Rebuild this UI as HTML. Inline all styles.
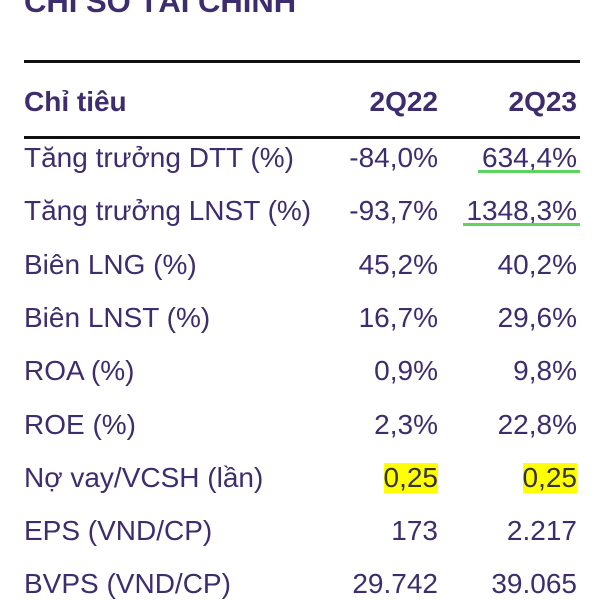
<!DOCTYPE html>
<html><head><meta charset="utf-8"><style>
body{margin:0;width:600px;height:600px;background:#fff;overflow:hidden;position:relative;font-family:"Liberation Sans",sans-serif;color:#3d2d6e}
.t{position:absolute;white-space:nowrap;font-size:28px;line-height:30px}
.l{left:24px}.c1{right:162px;text-align:right}.c2{right:23px;text-align:right}
.rule{position:absolute;left:24px;width:556px;height:3px;background:#111}
.hl{background:#ffff00;color:#333}
.ul{position:absolute;height:3px;background:#5fd35f}
</style></head><body>
<div class="t" style="left:24px;top:-13px;font-size:31px;font-weight:bold;line-height:30px">CHỈ SỐ TÀI CHÍNH</div>
<div class="rule" style="top:60px"></div>
<div class="t l" style="top:87px;font-weight:bold">Chỉ tiêu</div>
<div class="t c1" style="top:87px;font-weight:bold">2Q22</div>
<div class="t c2" style="top:87px;font-weight:bold">2Q23</div>
<div class="rule" style="top:136px"></div>
<div id="rows"></div>
<script>
const labels=["Tăng trưởng DTT (%)","Tăng trưởng LNST (%)","Biên LNG (%)","Biên LNST (%)","ROA (%)","ROE (%)","Nợ vay/VCSH (lần)","EPS (VND/CP)","BVPS (VND/CP)"];
const q22=["-84,0%","-93,7%","45,2%","16,7%","0,9%","2,3%","0,25","173","29.742"];
const q23=["634,4%","1348,3%","40,2%","29,6%","9,8%","22,8%","0,25","2.217","39.065"];
const root=document.getElementById('rows');
labels.forEach((lab,i)=>{
  const top=143+i*53.3;
  const a=document.createElement('div');a.className='t l';a.style.top=top+'px';a.textContent=lab;
  
  
  root.appendChild(a);
  const b=document.createElement('div');b.className='t c1'+(i==6?' hl':'');b.style.top=top+'px';b.textContent=q22[i];
  
  
  root.appendChild(b);
  const c=document.createElement('div');c.className='t c2'+(i==6?' hl':'');c.style.top=top+'px';c.textContent=q23[i];
  
  
  root.appendChild(c);
  if(i<2){
    const u=document.createElement('div');u.className='ul';
    u.style.top=(top+27)+'px';u.style.right='20px';u.style.width=(i==0?102:117)+'px';
    
    
    root.appendChild(u);
  }
});
</script>
</body></html>
